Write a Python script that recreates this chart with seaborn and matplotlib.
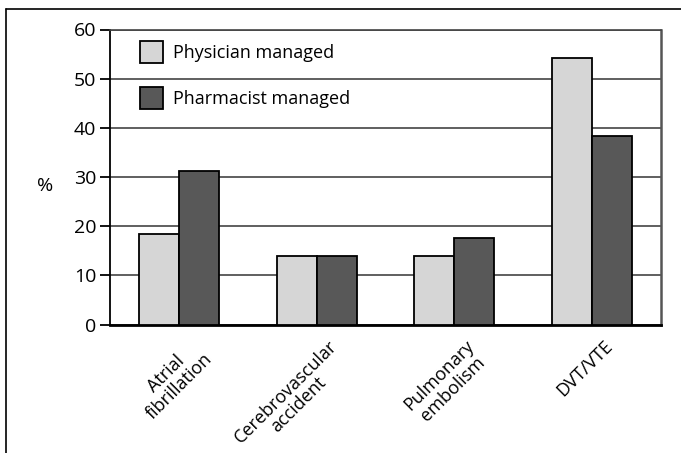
import matplotlib
matplotlib.use("Agg")
import matplotlib.pyplot as plt
import matplotlib.transforms as mtransforms
from matplotlib.lines import Line2D
import seaborn as sns
import pandas as pd

categories = ["Atrial\nfibrillation", "Cerebrovascular\naccident", "Pulmonary\nembolism", "DVT/VTE"]
series = ["Physician managed", "Pharmacist managed"]
physician = [18.5, 14.0, 14.0, 54.3]
pharmacist = [31.3, 14.0, 17.5, 38.3]
yticks = [0, 10, 20, 30, 40, 50, 60]
colors = ["#d6d6d6", "#585858"]

sns.set_theme(style="white")
plt.rcParams["font.family"] = ["Open Sans", "DejaVu Sans"]
plt.rcParams["text.color"] = "black"
plt.rcParams["xtick.labelcolor"] = "black"
plt.rcParams["ytick.labelcolor"] = "black"

df = pd.DataFrame({
    "category": categories * 2,
    "series": [series[0]] * 4 + [series[1]] * 4,
    "value": physician + pharmacist,
})

fig = plt.figure(figsize=(6.81, 4.53), dpi=100)
ax = fig.add_axes([110 / 681, 1 - 324.5 / 453, 551 / 681, 295 / 453])

sns.barplot(data=df, x="category", y="value", hue="series", order=categories,
            hue_order=series, palette=colors, width=0.58, edgecolor="black",
            linewidth=1.3, saturation=1, ax=ax, zorder=3)

ax.set_ylim(0, 60)
ax.set_xlim(-0.5, 3.5)
ax.set_yticks(yticks)
ax.set_yticklabels([str(v) for v in yticks], fontsize=14)
ax.yaxis.grid(True, color="#444444", linewidth=1.2, zorder=0)
ax.set_axisbelow(True)
ax.tick_params(axis="y", which="major", left=True, length=7, width=1.3,
               color="black", pad=3)
ax.tick_params(axis="x", bottom=False, pad=3)
ax.set_xlabel("")
ax.set_ylabel("")
offset = mtransforms.ScaledTranslation(11 / 100, 0, fig.dpi_scale_trans)
for lab in ax.get_xticklabels():
    lab.set_rotation(45)
    lab.set_ha("right")
    lab.set_va("top")
    lab.set_rotation_mode("anchor")
    lab.set_multialignment("center")
    lab.set_fontsize(13)
    lab.set_linespacing(1.05)
    lab.set_transform(lab.get_transform() + offset)

for side in ["left", "bottom"]:
    ax.spines[side].set_color("black")
ax.spines["left"].set_linewidth(1.3)
ax.spines["bottom"].set_linewidth(2.0)
ax.spines["top"].set_color("#444444")
ax.spines["top"].set_linewidth(1.2)
ax.spines["right"].set_color("#555555")
ax.spines["right"].set_linewidth(1.8)

fig.text(45 / 681, 1 - 186 / 453, "%", fontsize=14, ha="center", va="center")

leg = ax.legend(loc="upper left", bbox_to_anchor=(0.041, 0.985), frameon=False,
                fontsize=13, handlelength=1.3, handleheight=1.5,
                labelspacing=1.3, handletextpad=0.55, borderaxespad=0)
for h in leg.legend_handles:
    h.set_edgecolor("black")
    h.set_linewidth(1.3)

fig.add_artist(Line2D([6 / 681, 6 / 681], [0, 1 - 9 / 453], color="black", linewidth=1.2))
fig.add_artist(Line2D([6 / 681, 1], [1 - 9 / 453, 1 - 9 / 453], color="black", linewidth=1.2))

fig.savefig("out.png", dpi=100)
